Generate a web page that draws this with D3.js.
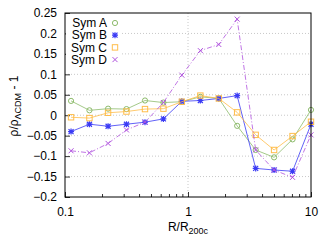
<!DOCTYPE html>
<html>
<head>
<meta charset="utf-8">
<script src="https://cdn.jsdelivr.net/npm/d3@7"></script>
<style>
  body { margin: 0; background: #fff; }
  text { font-family: "Liberation Sans", Arial, sans-serif; font-size: 12px; fill: #000; }
</style>
</head>
<body>
<svg id="chart" width="332" height="248"></svg>
<script>
var radii = [0.112, 0.158, 0.224, 0.316, 0.447, 0.631, 0.891, 1.26, 1.78, 2.51, 3.55, 5.01, 7.08, 10.0];
var symA = [0.035, 0.012, 0.016, 0.015, 0.036, 0.031, 0.033, 0.045, 0.041, -0.026, -0.085, -0.103, -0.059, 0.013];
var symB = [-0.040, -0.022, -0.027, -0.022, -0.017, -0.009, 0.034, 0.036, 0.041, 0.048, -0.130, -0.134, -0.137, -0.022];
var symC = [-0.005, -0.007, 0.006, 0.009, 0.015, 0.016, 0.033, 0.048, 0.041, 0.007, -0.048, -0.085, -0.051, -0.016];
var symD = [-0.087, -0.092, -0.069, -0.036, -0.017, 0.031, 0.098, 0.158, 0.173, 0.235, -0.085, -0.134, -0.152, -0.048];
var yTicks = [-0.2, -0.15, -0.1, -0.05, 0, 0.05, 0.1, 0.15, 0.2, 0.25];
var xTicks = [0.1, 1, 10];

var series = [
  {name: 'Sym A', values: symA, color: '#8dbb6b', marker: 'circle', dash: null},
  {name: 'Sym B', values: symB, color: '#3b3bf5', marker: 'star', dash: null},
  {name: 'Sym C', values: symC, color: '#ffbd4a', marker: 'square', dash: null},
  {name: 'Sym D', values: symD, color: '#b052de', marker: 'cross', dash: '5,2,1,2'}
];

var margin = {left: 65, top: 13, right: 21, bottom: 51},
    width = 332 - margin.left - margin.right,
    height = 248 - margin.top - margin.bottom;

var svg = d3.select('#chart');
var g = svg.append('g').attr('transform', 'translate(' + margin.left + ',' + margin.top + ')');

var x = d3.scaleLog().domain([0.1, 10]).range([0, width]);
var y = d3.scaleLinear().domain([-0.2, 0.25]).range([height, 0]);

// grid
g.selectAll('.hgrid')
  .data(yTicks.filter(function (d) { return d > -0.2 && d < 0.25; }))
  .enter().append('line')
    .attr('x1', 0).attr('x2', width)
    .attr('y1', function (d) { return y(d); })
    .attr('y2', function (d) { return y(d); })
    .attr('stroke', '#c8c8c8').attr('stroke-width', 1)
    .attr('stroke-dasharray', '1,2');
g.append('line')
  .attr('x1', x(1)).attr('x2', x(1))
  .attr('y1', 0).attr('y2', height)
  .attr('stroke', '#c8c8c8').attr('stroke-dasharray', '1,2');

// axes
var yAxis = d3.axisLeft(y).tickValues(yTicks).tickSize(-5).tickPadding(8)
  .tickFormat(function (d) { return d3.format('')(+d.toFixed(2)); });
g.append('g').call(yAxis)
  .call(function (s) { s.select('.domain').remove(); });

var minor = [];
[0.1, 1].forEach(function (b) {
  for (var k = 2; k <= 9; k++) minor.push(b * k);
});
g.append('g').attr('transform', 'translate(0,' + height + ')')
  .call(d3.axisBottom(x).tickValues(minor).tickSize(-3).tickFormat(''))
  .call(function (s) { s.select('.domain').remove(); });
g.append('g').attr('transform', 'translate(0,' + height + ')')
  .call(d3.axisBottom(x).tickValues(xTicks).tickSize(-5).tickPadding(10)
    .tickFormat(function (d) { return d === 0.1 ? '0.1' : String(d); }))
  .call(function (s) { s.select('.domain').remove(); });

g.selectAll('.tick text').style('font-size', '12px').style('font-family', '"Liberation Sans", Arial, sans-serif');
g.selectAll('.tick line').attr('stroke', '#333');

// series
var line = d3.line()
  .x(function (d, i) { return x(radii[i]); })
  .y(function (d) { return y(d); });

function drawMarker(sel, type, color) {
  if (type === 'circle') {
    sel.append('circle').attr('r', 2.6).attr('fill', 'none')
      .attr('stroke', color).attr('stroke-width', 1);
  } else if (type === 'square') {
    sel.append('rect').attr('x', -2.7).attr('y', -2.7).attr('width', 5.4).attr('height', 5.4)
      .attr('fill', 'none').attr('stroke', color).attr('stroke-width', 1);
  } else if (type === 'cross') {
    sel.append('path').attr('d', 'M-2.5,-2.5L2.5,2.5M-2.5,2.5L2.5,-2.5')
      .attr('stroke', color).attr('stroke-width', 1);
  } else {
    sel.append('path').attr('d', 'M-2.5,-2.5L2.5,2.5M-2.5,2.5L2.5,-2.5M-3,0L3,0M0,-3L0,3')
      .attr('stroke', color).attr('stroke-width', 1.2);
  }
}

series.forEach(function (s) {
  g.append('path').datum(s.values)
    .attr('d', line).attr('fill', 'none')
    .attr('stroke', s.color).attr('stroke-opacity', 0.8).attr('stroke-width', 1)
    .attr('stroke-dasharray', s.dash);
  g.selectAll(null).data(s.values).enter().append('g')
    .attr('transform', function (d, i) { return 'translate(' + x(radii[i]) + ',' + y(d) + ')'; })
    .each(function () { drawMarker(d3.select(this), s.marker, s.color); });
});

// legend
var legend = g.append('g');
legend.append('rect').attr('x', 1).attr('y', 1).attr('width', 56).attr('height', 51).attr('fill', '#fff');
series.forEach(function (s, i) {
  var ly = 10 + i * 12.2;
  legend.append('text').attr('x', 42).attr('y', ly).attr('dy', '0.35em')
    .attr('text-anchor', 'end').text(s.name);
  var m = legend.append('g').attr('transform', 'translate(50,' + ly + ')');
  drawMarker(m, s.marker, s.color);
});

// border
g.append('rect').attr('width', width).attr('height', height)
  .attr('fill', 'none').attr('stroke', '#000').attr('stroke-width', 1);

// axis titles
var xt = svg.append('text').attr('x', margin.left + x(1)).attr('y', 231)
  .attr('text-anchor', 'middle');
xt.append('tspan').text('R/R');
xt.append('tspan').attr('dy', 3).style('font-size', '9px').text('200c');

var yt = svg.append('text')
  .attr('transform', 'translate(18,106) rotate(-90)')
  .attr('text-anchor', 'middle');
yt.append('tspan').text('ρ/ρ');
yt.append('tspan').attr('dy', 3).style('font-size', '9px').text('ΛCDM');
yt.append('tspan').attr('dy', -3).text(' - 1');
</script>
</body>
</html>
